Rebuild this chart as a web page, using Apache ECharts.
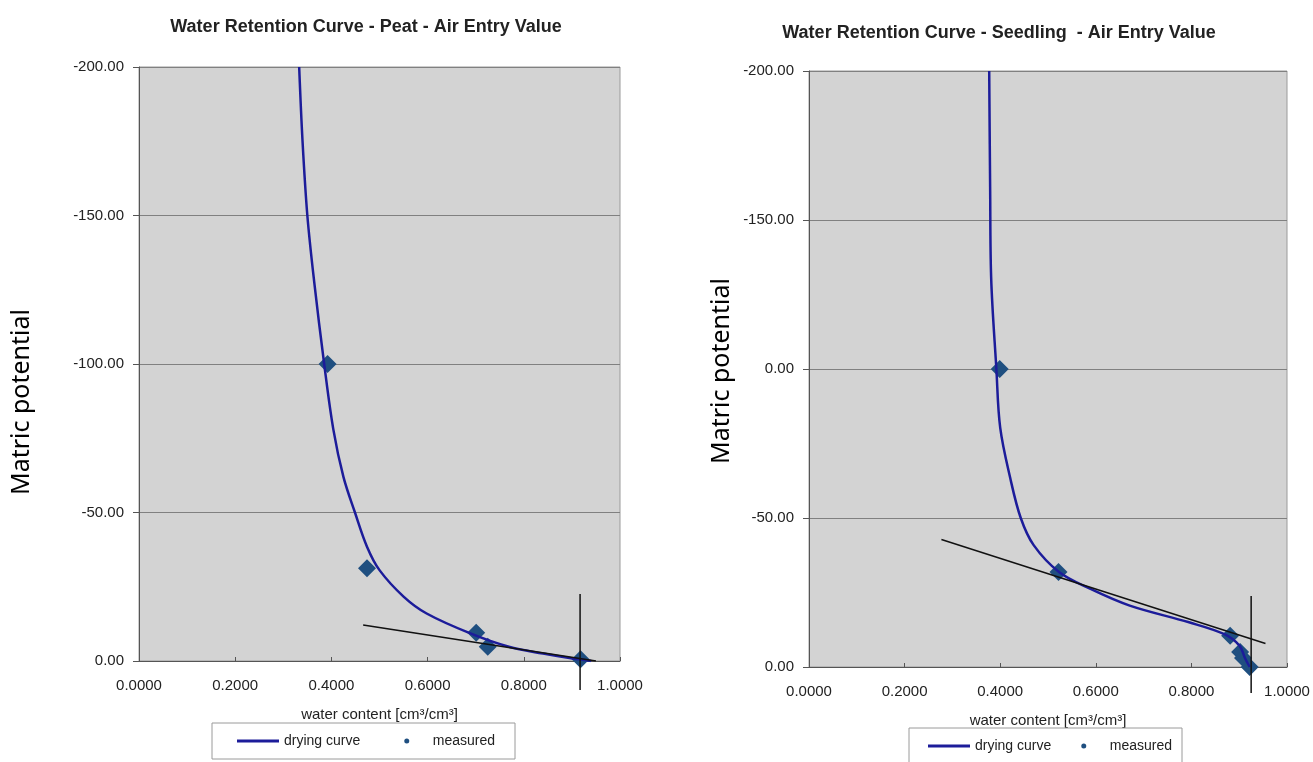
<!DOCTYPE html>
<html>
<head>
<meta charset="utf-8">
<title>Water Retention Curves</title>
<script src="https://cdn.jsdelivr.net/npm/echarts/dist/echarts.min.js"></script>
<style>
  html, body {
    margin: 0;
    padding: 0;
    background: #ffffff;
  }
  #chart {
    width: 1313px;
    height: 762px;
  }
</style>
</head>
<body>
<div id="chart"></div>
<script>
// ---- data ----
// peat (left)
var peatCurveTheta = [0.333, 0.340, 0.350, 0.364, 0.385, 0.404, 0.425, 0.449, 0.474, 0.500, 0.550, 0.598, 0.689, 0.769, 0.840, 0.895, 0.940];
var peatCurvePsi   = [-200, -175, -150, -128, -100, -78, -62, -50, -38.5, -30.6, -21.7, -16, -9.3, -4.8, -2.5, -1, 0];
var peatMeasTheta  = [0.392, 0.474, 0.701, 0.725, 0.918];
var peatMeasPsi    = [-100, -31.2, -9.5, -4.8, -0.6];
var peatTangentTheta = [0.466, 0.950];
var peatTangentPsi   = [-12.1, 0];
var peatAevTheta = [0.917, 0.917];
var peatAevPsi   = [-22.6, 9.8];

// seedling (right)
var seedCurveTheta = [0.377, 0.379, 0.381, 0.392, 0.400, 0.421, 0.443, 0.470, 0.523, 0.589, 0.671, 0.795, 0.869, 0.901, 0.912, 0.922];
var seedCurvePsi   = [-200, -160, -131, -100, -80.3, -63.4, -50, -40.9, -31.9, -26.2, -20.6, -15, -11, -7.1, -3, 0];
var seedMeasTheta  = [0.399, 0.522, 0.881, 0.902, 0.908, 0.922];
var seedMeasPsi    = [-100, -31.9, -10.5, -5, -3, 0];
var seedTangentTheta = [0.277, 0.955];
var seedTangentPsi   = [-42.8, -7.9];
var seedAevTheta = [0.925, 0.925];
var seedAevPsi   = [-23.8, 8.7];

// axis ticks
var yTickValues = [0, -50, -100, -150, -200];
var peatYTickLabels = ['0.00', '-50.00', '-100.00', '-150.00', '-200.00'];
var seedYTickLabels = ['0.00', '-50.00', '0.00', '-150.00', '-200.00'];

var titles = ['Water Retention Curve - Peat - Air Entry Value', 'Water Retention Curve - Seedling  - Air Entry Value'];
var legendNames = ['drying curve', 'measured'];

function pairs(xs, ys) {
  return xs.map(function (x, i) { return [x, ys[i]]; });
}

function tickLabel(labels) {
  return function (v) {
    var i = yTickValues.indexOf(Math.round(v));
    return i >= 0 ? labels[i] : '';
  };
}

var font = 'Liberation Sans, Arial, sans-serif';
var curveColor = '#1c1c9a';
var measColor = '#1f4f80';

function xAxisFor(idx) {
  return {
    type: 'value',
    gridIndex: idx,
    min: 0,
    max: 1,
    interval: 0.2,
    name: 'water content [cm\u00b3/cm\u00b3]',
    nameLocation: 'middle',
    nameGap: 46,
    nameTextStyle: { color: '#222', fontSize: 15, fontFamily: font },
    axisLine: { show: true, lineStyle: { color: '#555', width: 1 } },
    axisTick: { show: true, inside: true, length: 4, lineStyle: { color: '#555' } },
    axisLabel: {
      color: '#222', fontSize: 15, fontFamily: font, margin: 17,
      formatter: function (v) { return v.toFixed(4); }
    },
    splitLine: { show: false }
  };
}

function yAxisFor(idx, labels) {
  return {
    type: 'value',
    gridIndex: idx,
    inverse: true,
    min: -200,
    max: 0,
    interval: 50,
    axisLine: { show: true, lineStyle: { color: '#555', width: 1 } },
    axisTick: { show: true, length: 6, lineStyle: { color: '#555' } },
    axisLabel: {
      color: '#222', fontSize: 15, fontFamily: font, margin: 15,
      formatter: tickLabel(labels)
    },
    splitLine: { show: true, lineStyle: { color: '#808080', width: 1 } }
  };
}

function seriesFor(idx, curve, meas, tangent, aev) {
  return [
    {
      name: 'measured',
      type: 'scatter',
      xAxisIndex: idx, yAxisIndex: idx,
      symbol: 'diamond',
      symbolSize: 18,
      itemStyle: { color: measColor, opacity: 1 },
      data: meas,
      z: 2
    },
    {
      name: 'drying curve',
      type: 'line',
      xAxisIndex: idx, yAxisIndex: idx,
      symbol: 'none',
      smooth: 0.35,
      lineStyle: { color: curveColor, width: 2.5 },
      itemStyle: { color: curveColor },
      data: curve,
      z: 3
    },
    {
      name: 'tangent',
      type: 'line',
      xAxisIndex: idx, yAxisIndex: idx,
      symbol: 'none',
      lineStyle: { color: '#111', width: 1.5 },
      data: tangent,
      z: 4
    },
    {
      name: 'air entry',
      type: 'line',
      xAxisIndex: idx, yAxisIndex: idx,
      symbol: 'none',
      clip: false,
      lineStyle: { color: '#111', width: 1.5 },
      data: aev,
      z: 5
    }
  ];
}

function legendFor(left, top, gap, padding) {
  return {
    left: left,
    top: top,
    orient: 'horizontal',
    data: [
      { name: legendNames[0], icon: 'path://M0,0L45,0L45,3L0,3Z' },
      { name: legendNames[1], icon: 'circle' }
    ],
    itemWidth: 42,
    itemHeight: 5,
    itemGap: gap,
    padding: padding,
    borderColor: '#9a9a9a',
    borderWidth: 1,
    backgroundColor: '#ffffff',
    borderRadius: 0,
    textStyle: { color: '#222', fontSize: 14, fontFamily: font },
    selectedMode: false
  };
}

var myChart = echarts.init(document.getElementById('chart'), null, { renderer: 'canvas' });

var option = {
  backgroundColor: '#ffffff',
  animation: false,
  title: [
    {
      text: titles[0], left: 361, top: 13, textAlign: 'center',
      textStyle: { fontSize: 18, fontWeight: 'bold', color: '#222', fontFamily: font }
    },
    {
      text: titles[1], left: 994, top: 19, textAlign: 'center',
      textStyle: { fontSize: 18, fontWeight: 'bold', color: '#222', fontFamily: font }
    }
  ],
  grid: [
    { left: 139, top: 67, width: 481, height: 594, show: true, backgroundColor: '#d3d3d3', borderColor: '#9a9a9a', borderWidth: 1 },
    { left: 809, top: 71, width: 478, height: 596, show: true, backgroundColor: '#d3d3d3', borderColor: '#9a9a9a', borderWidth: 1 }
  ],
  xAxis: [xAxisFor(0), xAxisFor(1)],
  yAxis: [yAxisFor(0, peatYTickLabels), yAxisFor(1, seedYTickLabels)],
  legend: [
    legendFor(212, 723, 44, [11, 20, 11, 25]),
    legendFor(909, 728, 30, [11, 10, 11, 19])
  ],
  graphic: [
    {
      type: 'text', x: 22, y: 402, rotation: Math.PI / 2,
      style: { text: 'Matric potential', fill: '#000', font: '25px "Noto Sans", "Open Sans", sans-serif', align: 'center', verticalAlign: 'middle' }
    },
    {
      type: 'text', x: 722, y: 371, rotation: Math.PI / 2,
      style: { text: 'Matric potential', fill: '#000', font: '25px "Noto Sans", "Open Sans", sans-serif', align: 'center', verticalAlign: 'middle' }
    }
  ],
  series: [].concat(
    seriesFor(0, pairs(peatCurveTheta, peatCurvePsi), pairs(peatMeasTheta, peatMeasPsi),
      pairs(peatTangentTheta, peatTangentPsi), pairs(peatAevTheta, peatAevPsi)),
    seriesFor(1, pairs(seedCurveTheta, seedCurvePsi), pairs(seedMeasTheta, seedMeasPsi),
      pairs(seedTangentTheta, seedTangentPsi), pairs(seedAevTheta, seedAevPsi))
  )
};

myChart.setOption(option);
</script>
</body>
</html>
